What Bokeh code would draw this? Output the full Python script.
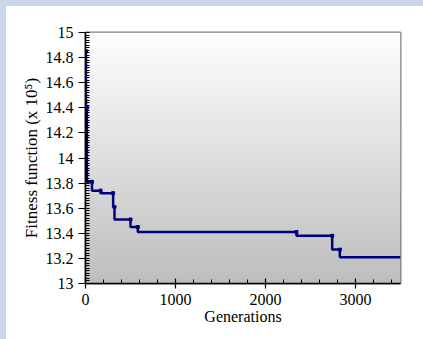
import numpy as np
from bokeh.plotting import figure
from bokeh.models import FixedTicker, Range1d, GlobalInlineStyleSheet
from bokeh.embed import file_html
from bokeh.resources import INLINE

# ---- data ----
generations = [0, 5, 15, 72, 167, 307, 322, 500, 581, 2344, 2741, 2826, 3500]
fitness = [14.85, 14.40, 13.81, 13.74, 13.72, 13.61, 13.51, 13.45, 13.41, 13.38, 13.27, 13.21, 13.21]

x_ticks = [0, 1000, 2000, 3000]
x_labels = ["0", "1000", "2000", "3000"]
y_ticks = [13.0, 13.2, 13.4, 13.6, 13.8, 14.0, 14.2, 14.4, 14.6, 14.8, 15.0]
y_labels = ["13", "13.2", "13.4", "13.6", "13.8", "14", "14.2", "14.4", "14.6", "14.8", "15"]

x_title = "Generations"
y_title = "Fitness function (x 10\u2075)"

FONT = "Liberation Serif"
LINE = "#000080"
X_MIN, X_MAX = 0, 3500
Y_MIN, Y_MAX = 13, 15

p = figure(width=409, height=325, output_backend="svg", toolbar_location=None,
           x_range=Range1d(X_MIN, X_MAX), y_range=Range1d(Y_MIN, Y_MAX),
           min_border_left=79, min_border_right=15, min_border_top=26, min_border_bottom=48)
p.border_fill_color = "white"
p.background_fill_color = "white"
p.outline_line_color = "#7f7f7f"
p.outline_line_width = 2
p.xgrid.visible = False
p.ygrid.visible = False

# gradient background of the plot area
vals = np.linspace(0, 1, 256).reshape(256, 1)
greys = np.linspace(190, 255, 256).astype(int)
palette = [f"#{g:02x}{g:02x}{g:02x}" for g in greys]
p.image(image=[vals], x=X_MIN, y=Y_MIN, dw=X_MAX - X_MIN, dh=Y_MAX - Y_MIN,
        palette=palette, level="image")

# step line
p.step(x=generations, y=fitness, mode="after", line_color=LINE, line_width=2.5)
mx = generations[1:-1]
my = fitness[:-2]
p.scatter(x=mx, y=my, marker="square", size=3, fill_color=LINE, line_color=LINE)

# axes
xa = p.xaxis[0]
xa.ticker = FixedTicker(ticks=x_ticks, minor_ticks=list(range(0, 3501, 200)))
xa.major_label_overrides = {t: l for t, l in zip(x_ticks, x_labels)}
xa.axis_label = x_title
ya = p.yaxis[0]
ya.ticker = FixedTicker(ticks=y_ticks,
                        minor_ticks=[round(13 + 0.02 * i, 2) for i in range(101)])
ya.major_label_overrides = {t: l for t, l in zip(y_ticks, y_labels)}
ya.axis_label = y_title

for ax in (xa, ya):
    ax.axis_line_color = "black"
    ax.axis_line_width = 1.5
    ax.major_tick_line_color = "black"
    ax.minor_tick_line_color = "black"
    ax.major_tick_line_width = 1.2
    ax.minor_tick_line_width = 1
    ax.major_label_text_font = FONT
    ax.major_label_text_font_size = "16px"
    ax.major_label_text_color = "black"
    ax.axis_label_text_font = FONT
    ax.axis_label_text_font_size = "17px"
    ax.axis_label_text_font_style = "normal"
    ax.axis_label_text_color = "black"
xa.axis_label_text_font_size = "16px"

xa.major_tick_in = 5
xa.major_tick_out = 5
xa.minor_tick_in = 4
xa.minor_tick_out = 0
xa.major_label_standoff = 5
xa.axis_label_standoff = 0

ya.major_tick_in = 2
ya.major_tick_out = 7
ya.minor_tick_in = 4
ya.minor_tick_out = 0
ya.major_label_standoff = 5
ya.axis_label_standoff = 2

p.stylesheets = [GlobalInlineStyleSheet(css=(
    "html { margin: 0; background: "
    "linear-gradient(#c8d6ee, #c8d6ee) 0 0 / 6px 3000px no-repeat, "
    "linear-gradient(#c8d6ee, #c8d6ee) 0 0 / 3000px 6px no-repeat, #ffffff; } "
    "body { margin: 0; background: transparent; "
    "padding: 6px 0 0 6px; box-sizing: border-box; }"))]

open("out.html", "w").write(file_html(p, INLINE))
